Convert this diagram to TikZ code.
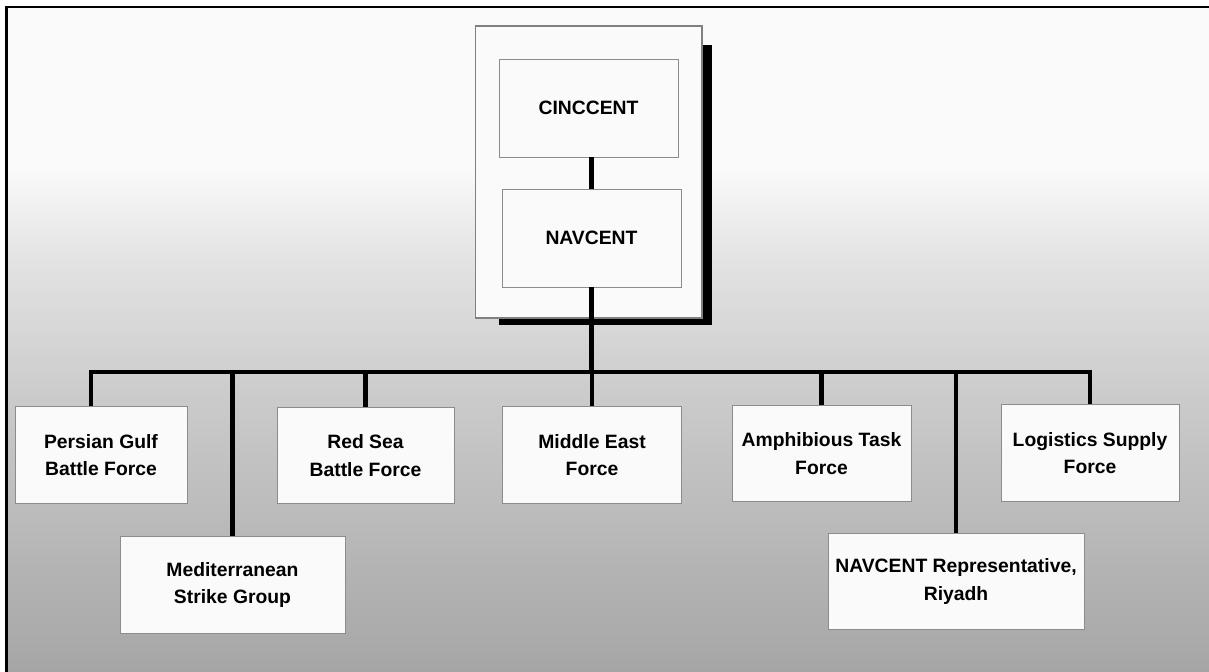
\documentclass[tikz,border=0pt]{standalone}
\usepackage{fontspec}
\setsansfont{Liberation Sans}
\usetikzlibrary{calc}
\pgfdeclareverticalshading{bgfade}{100bp}{color(0bp)=(black!35); color(25bp)=(black!35); color(45bp)=(black!21); color(56bp)=(black!11); color(63bp)=(black!2); color(100bp)=(black!2)}

\begin{document}
\begin{tikzpicture}[x=0.02cm, y=-0.02cm,
  unit/.style={draw=black!45, line width=0.5pt, fill=white!98!black, align=center,
    inner sep=0pt, minimum height=1.93cm,
    font=\sffamily\bfseries\fontsize{11}{15.5}\selectfont},
  link/.style={line width=2.4pt, black}]
  \useasboundingbox (0,0) rectangle (1209,672);
  % ------- background and frame -------
  \fill[white] (0,0) rectangle (1209,672);
  \shade[shading=bgfade] (6.5,7) rectangle (1209,672);
  \draw[line width=1.3pt] (6.5,672) -- (6.5,7) -- (1209,7);
  % ------- top: command block with drop shadow -------
  \fill[black] (499,45) rectangle (712,325);
  \node[draw=black!50, line width=0.6pt, fill=white!98!black,
    minimum width=4.54cm, minimum height=5.84cm] (cmd) at (588.5,172) {};
  \node[unit, minimum width=3.58cm, minimum height=1.96cm] (cinc) at (588.5,108) {CINCCENT};
  \node[unit, minimum width=3.58cm, minimum height=1.96cm] (navc) at (591.5,238) {NAVCENT};
  \draw[link] (navc.north |- cinc.south) -- (navc.north);
  % ------- bottom: subordinate forces -------
  \foreach \n/\x/\y/\w/\lab in {
      pgbf/101/455/3.44/{Persian Gulf\\Battle Force},
      rsbf/365.5/455.5/3.54/{Red Sea\\Battle Force},
      mef/592/455/3.58/{Middle East\\Force},
      atf/821.5/453.5/3.58/{Amphibious Task\\Force},
      lsf/1090/453/3.56/{Logistics Supply\\Force},
      msg/232.5/585/4.5/{Mediterranean\\Strike Group},
      rep/956/581.5/5.12/{NAVCENT Representative,\\Riyadh}} {
    \node[unit, minimum width=\w cm] (\n) at (\x,\y) {\lab};
  }
  % ------- connectors -------
  \coordinate (bus) at (591,372);
  \coordinate (busL) at ([xshift=-0.2cm]pgbf.north |- bus);
  \draw[link] (navc.south) -- (navc.south |- bus);
  \draw[link] (busL |- pgbf.north) -- (busL) -- (lsf.north |- bus) -- (lsf.north);
  \foreach \n in {rsbf,mef,atf,msg,rep}
    \draw[link] (\n.north |- bus) -- (\n.north);
\end{tikzpicture}
\end{document}
